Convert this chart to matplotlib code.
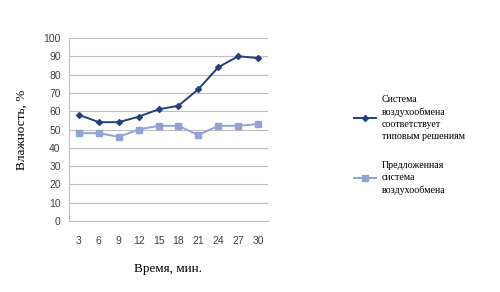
import numpy as np
import matplotlib
matplotlib.use("Agg")
import matplotlib.pyplot as plt

times = ["3", "6", "9", "12", "15", "18", "21", "24", "27", "30"]
typical = [58, 54, 54, 57, 61, 63, 72, 84, 90, 89]
proposed = [48, 48, 46, 50, 52, 52, 47, 52, 52, 53]
yticks = list(range(0, 101, 10))

fig = plt.figure(figsize=(5, 2.92), dpi=100)
ax = fig.add_axes([0.138, 0.243, 0.398, 0.627])

x = np.arange(len(times))
l1, = ax.plot(x, typical, color="#243f7f", lw=1.4, marker="D", ms=3,
              label="Система\nвоздухообмена\nсоответствует\nтиповым решениям")
l2, = ax.plot(x, proposed, color="#8fa3d6", lw=1.4, marker="s", ms=4,
              label="Предложенная\nсистема\nвоздухообмена")

ax.set_xlim(-0.5, len(times) - 0.5)
ax.set_ylim(0, 100)
ax.set_yticks(yticks)
ax.set_xticks(x)
ax.set_xticklabels(times)
ax.grid(axis="y", color="#bdbdbd", lw=0.8)
ax.set_axisbelow(True)
for s in ["top", "right"]:
    ax.spines[s].set_visible(False)
ax.spines["left"].set_color("#bdbdbd")
ax.spines["bottom"].set_color("#bdbdbd")
ax.tick_params(axis="y", length=0, labelsize=7.5, colors="#404040", pad=6)
ax.tick_params(axis="x", length=0, labelsize=7.5, colors="#404040", pad=11)
for t in ax.get_xticklabels() + ax.get_yticklabels():
    t.set_fontfamily("Liberation Sans")

ax.set_ylabel("Влажность, %", fontfamily="Liberation Serif", fontsize=9.5, labelpad=11)
ax.set_xlabel("Время, мин.", fontfamily="Liberation Serif", fontsize=9.5, labelpad=12)

leg = fig.legend(handles=[l1, l2], loc="upper left", bbox_to_anchor=(0.69, 0.705),
                 frameon=False, prop={"family": "Liberation Serif", "size": 7.2},
                 handlelength=2.2, labelspacing=2.0, handletextpad=0.6)
for t in leg.get_texts():
    t.set_linespacing(1.45)

fig.savefig("out.png", dpi=100)
